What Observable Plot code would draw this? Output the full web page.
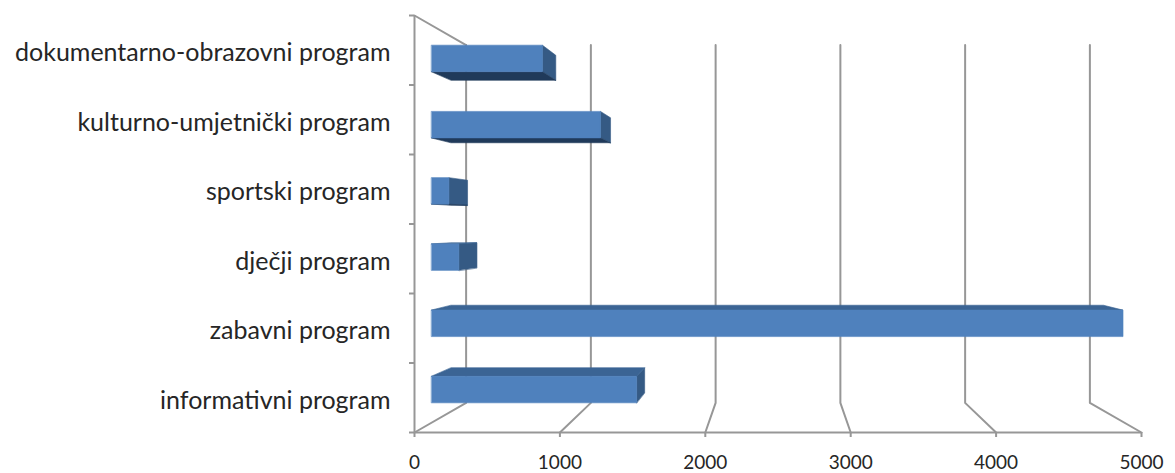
<!DOCTYPE html>
<html>
<head>
<meta charset="utf-8">
<script src="https://cdn.jsdelivr.net/npm/d3@7"></script>
<script src="https://cdn.jsdelivr.net/npm/@observablehq/plot@0.6"></script>
<style>
  html, body { margin: 0; padding: 0; background: #fff; }
</style>
</head>
<body>
<div id="chart"></div>
<script>
// ---- data (bottom to top, as in the chart) ----
const categories = [
  "informativni program",
  "zabavni program",
  "dječji program",
  "sportski program",
  "kulturno-umjetnički program",
  "dokumentarno-obrazovni program"
];
const values = [1480, 4990, 197, 125, 1219, 800];
const xTicks = [0, 1000, 2000, 3000, 4000, 5000];

// ---- 3D view settings (perspective factors) ----
const XMAX = 5000, N = categories.length;
const XC = XMAX / 2, YC = N / 2;   // vanishing point (data units)
const S_FRONT = 1, S_WALL = 0.858; // front plane / back wall
const S_BAR_F = 0.953, S_BAR_B = 0.899; // bar front / back depth
const HALF = 0.2;                  // half bar thickness (category units)

const proj = (v, u, s) => ({x: XC + (v - XC) * s, y: YC + (u - YC) * s});

// gridlines: floor line + back wall line for each tick
const grid = [];
xTicks.forEach((v, i) => {
  [proj(v, 0, S_FRONT), proj(v, 0, S_WALL), proj(v, N, S_WALL)]
    .forEach(p => grid.push({id: "g" + i, ...p}));
});
// top edge of the side wall
[proj(0, N, S_FRONT), proj(0, N, S_WALL)].forEach(p => grid.push({id: "top", ...p}));

// bar faces
const fronts = [], sides = [], tops = [], bottoms = [];
values.forEach((v, i) => {
  const a = i + 0.5 - HALF, b = i + 0.5 + HALF;
  const push = (arr, id, pts) => pts.forEach(p => arr.push({id, ...p}));
  push(fronts, "f" + i, [proj(0, a, S_BAR_F), proj(v, a, S_BAR_F), proj(v, b, S_BAR_F), proj(0, b, S_BAR_F)]);
  if (v < XC) push(sides, "s" + i, [proj(v, a, S_BAR_F), proj(v, b, S_BAR_F), proj(v, b, S_BAR_B), proj(v, a, S_BAR_B)]);
  if (b < YC) push(tops, "t" + i, [proj(0, b, S_BAR_F), proj(v, b, S_BAR_F), proj(v, b, S_BAR_B), proj(0, b, S_BAR_B)]);
  if (a > YC) push(bottoms, "b" + i, [proj(0, a, S_BAR_F), proj(v, a, S_BAR_F), proj(v, a, S_BAR_B), proj(0, a, S_BAR_B)]);
});

const LINE = "#979797";
const LW = 2;
const face = (data, color) => Plot.line(data, {
  x: "x", y: "y", z: "id", curve: "linear-closed",
  fill: color, stroke: color, strokeWidth: 0.6
});

const chart = Plot.plot({
  width: 1175,
  height: 473,
  marginLeft: 414,
  marginRight: 34,
  marginTop: 15,
  marginBottom: 41,
  style: {fontFamily: "Lato, sans-serif", background: "#fff", color: "#262626"},
  x: {domain: [0, XMAX], label: null},
  y: {domain: [0, N], label: null},
  marks: [
    Plot.line(grid, {x: "x", y: "y", z: "id", stroke: LINE, strokeWidth: LW}),
    Plot.ruleX([0], {y1: 0, y2: N, stroke: LINE, strokeWidth: LW}),
    Plot.ruleY([0], {x1: 0, x2: XMAX, stroke: LINE, strokeWidth: LW}),
    Plot.axisX({ticks: xTicks, tickSize: 5, tickFormat: () => "", stroke: LINE, strokeWidth: LW, label: null}),
    Plot.axisX({ticks: xTicks, tickSize: 0, tickPadding: 23, tickFormat: d3.format("d"), fontSize: 19, fill: "#262626", label: null}),
    Plot.axisY({ticks: d3.range(0, N + 1), tickSize: 5, tickFormat: () => "", stroke: LINE, strokeWidth: LW, label: null}),
    Plot.axisY({ticks: categories.map((_, i) => i + 0.5), tickFormat: d => categories[Math.floor(d)],
      tickSize: 0, tickPadding: 24, dy: 3, fontSize: 25, fill: "#262626", label: null}),
    face(sides, "#355a84"),
    face(tops, "#3b6494"),
    face(bottoms, "#203a5a"),
    face(fronts, "#4f81bd")
  ]
});
document.getElementById("chart").append(chart);
</script>
</body>
</html>
